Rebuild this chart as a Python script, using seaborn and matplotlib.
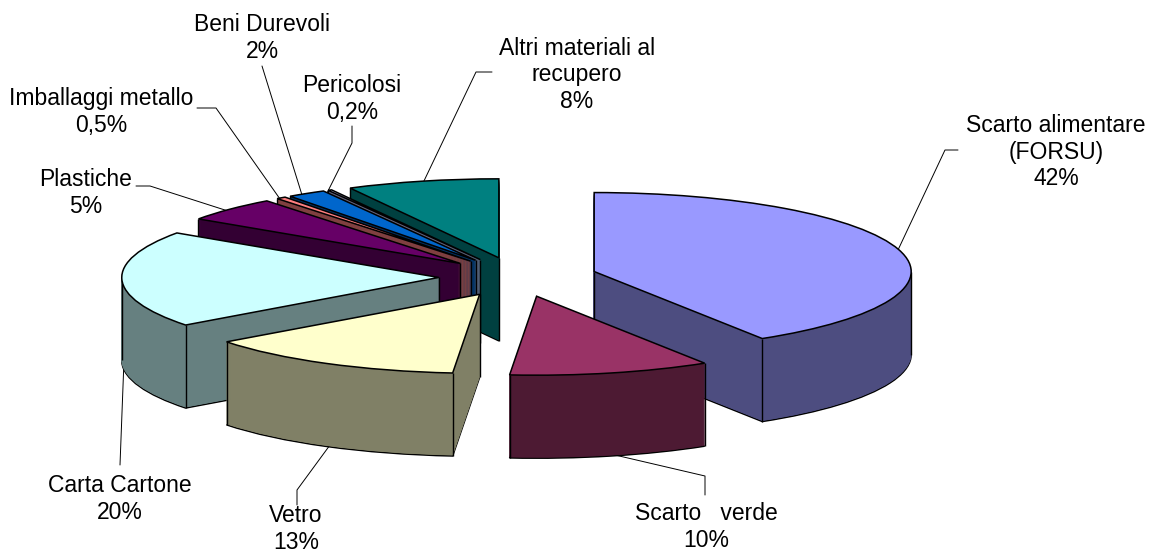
import numpy as np
import seaborn as sns
import matplotlib.pyplot as plt

# --- 1. DATA ---
# shares, each one rounds to its printed label
values = [41.5, 10.35, 13.49, 20.0, 5.07, 0.5, 2, 0.2, 7.85]
labels = ["Scarto alimentare\n(FORSU)\n42%", "Scarto   verde\n10%", "Vetro\n13%",
          "Carta Cartone\n20%", "Plastiche\n5%", "Imballaggi metallo\n0,5%",
          "Beni Durevoli\n2%", "Pericolosi\n0,2%", "Altri materiali al\nrecupero\n8%"]
top_colors = ["#9999FF", "#993366", "#FFFFCC", "#CCFFFF", "#660066",
              "#FF8080", "#0066CC", "#CCCCFF", "#008080"]

# --- 2. LAYOUT (pixels of the 1158x553 image) ---
W, H = 1158, 553
CX, CY = 518, 277      # pie centre
RX, RY = 317, 79       # radii of the flattened pie
DEPTH = 83             # wall height
EXPLODE = 0.25
draw_order = [8, 7, 6, 5, 4, 3, 2, 0, 1]  # back to front

label_pos = [(1056, 152), (706, 527), (296, 529), (120, 499), (86, 193),
             (101, 112), (262, 38), (352, 99), (577, 75)]
leaders = [[(898, 250), (945, 150), (958, 150)],
           [(615, 455), (705, 476), (705, 495)],
           [(330, 445), (297, 490), (297, 505)],
           [(124, 360), (120, 465)],
           [(228, 211), (150, 186), (136, 186)],
           [(280, 199), (216, 108), (197, 108)],
           [(302, 195), (262, 66)],
           [(327, 193), (352, 143), (352, 126)],
           [(423, 183), (476, 72), (492, 72)]]

sns.set_theme(style="white")
plt.rcParams['font.family'] = ['Liberation Sans', 'DejaVu Sans']

fig, ax = plt.subplots(figsize=(W / 100, H / 100), dpi=100)
ax.set_position([0, 0, 1, 1])

palette = sns.color_palette(top_colors)
side_colors = [tuple(c * 0.5 for c in col) for col in palette]
explode = [EXPLODE] * len(values)
step = 1.0 / RY  # one pixel down, in data units
n_layers = DEPTH


def draw_pie(offset, colors, edge, lw):
    wedges, _ = ax.pie(values, explode=explode, colors=colors, startangle=90, counterclock=False,
                       center=(0, -offset), radius=1, normalize=True,
                       wedgeprops={'edgecolor': edge, 'linewidth': lw})
    return wedges


def runs_under_top(w, x, y):
    # True if the point just below (x, y) is still on the top face of wedge w
    dx, dy = x - w.center[0], y - 0.02 - w.center[1]
    if np.hypot(dx, dy) > 1:
        return False
    ang = np.degrees(np.arctan2(dy, dx))
    return any(w.theta1 - 0.01 <= ang + k <= w.theta2 + 0.01 for k in (-360, 0, 360))


# --- 3. WALLS AND TOP FACES ---
# the walls are a stack of the same pie shifted down one pixel at a time
for layer in range(n_layers, 0, -1):
    if layer == n_layers:
        wedges = draw_pie(layer * step, side_colors, 'black', 1.1)
    else:
        wedges = draw_pie(layer * step, side_colors, None, 0)
        for w, col in zip(wedges, side_colors):
            w.set_edgecolor(col)
            w.set_linewidth(0.6)
    for i, w in enumerate(wedges):
        w.set_zorder(draw_order.index(i) * 10 + 1 + (n_layers - layer) / n_layers)

top_wedges = draw_pie(0, list(palette), 'black', 1.1)
for i, w in enumerate(top_wedges):
    z = draw_order.index(i) * 10
    w.set_zorder(z + 3)
    # vertical corner lines of the slice
    x0, y0 = w.center
    angles = [w.theta1, w.theta2]
    # silhouette at the far right / left of the rim when the slice reaches it
    angles += [a for a in (0, 180, 360, -180) if w.theta1 < a < w.theta2]
    xs = [x0] + [x0 + np.cos(np.radians(a)) for a in angles]
    ys = [y0] + [y0 + np.sin(np.radians(a)) for a in angles]
    for x, y in zip(xs, ys):
        if runs_under_top(w, x, y):
            continue
        ax.plot([x, x], [y, y - DEPTH * step], color='black', lw=1.0, zorder=z + 2.5,
                solid_capstyle='butt')

ax.set_aspect('auto')
ax.set_xlim(-CX / RX, (W - CX) / RX)
ax.set_ylim((CY - H) / RY, CY / RY)
ax.axis('off')

# --- 4. LABELS AND LEADER LINES ---
for pts in leaders:
    px = np.array(pts, dtype=float)
    ax.plot(px[:, 0] / W, 1 - px[:, 1] / H, color='black', lw=0.7, transform=ax.transAxes, zorder=0.5)

for text, (x, y) in zip(labels, label_pos):
    ax.text(x / W, 1 - y / H, text, transform=ax.transAxes, ha='center', va='center',
            fontsize=16.5, color='black', linespacing=1.22, zorder=200)

plt.savefig('out.png', dpi=100)
